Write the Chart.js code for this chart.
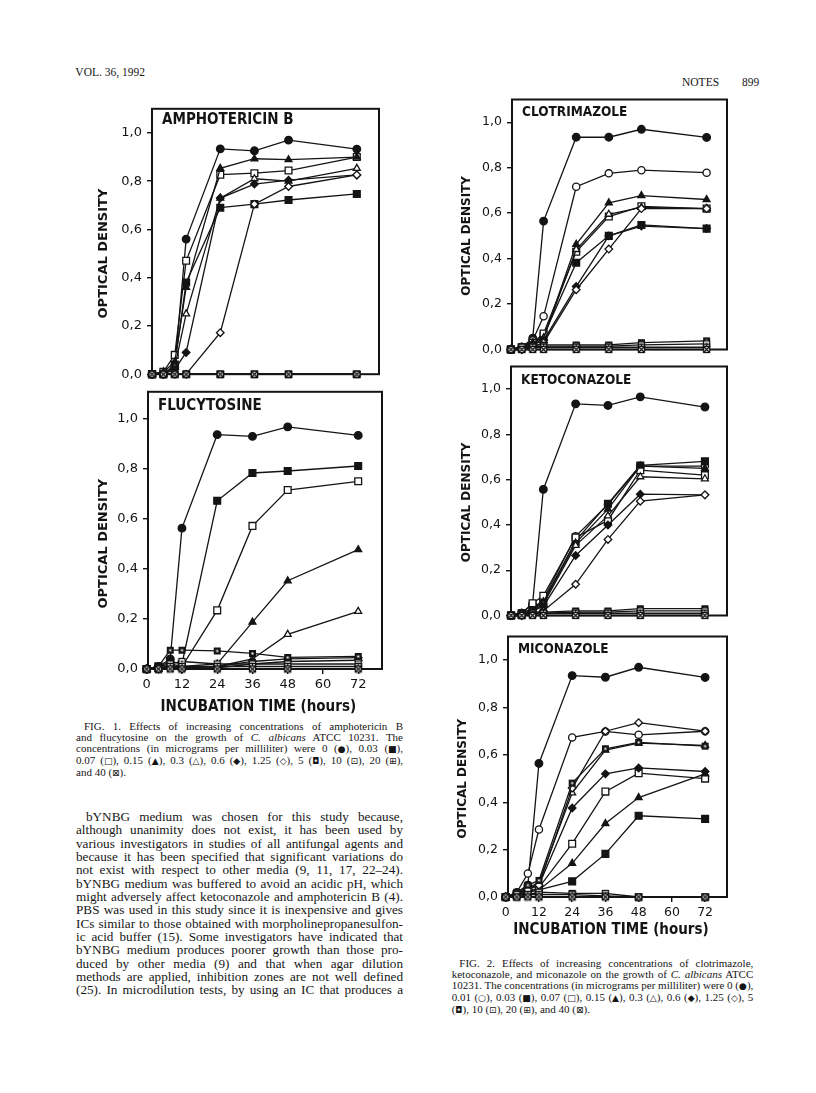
<!DOCTYPE html>
<html>
<head>
<meta charset="utf-8">
<script src="https://cdn.jsdelivr.net/npm/chart.js@4.4.1/dist/chart.umd.min.js"></script>
<style>
  html, body { margin: 0; padding: 0; background: #fff; }
  #page { position: relative; width: 816px; height: 1093px; overflow: hidden; background: #fff; color: #161616;
          font-family: "Liberation Serif", "Times New Roman", serif; }
  #page canvas { position: absolute; }
  .txt { position: absolute; white-space: nowrap; }
  .block { position: absolute; }
  .ln { white-space: nowrap; }
  .sym { font-family: "DejaVu Sans", sans-serif; font-size: 0.82em; }
</style>
</head>
<body>
<div id="page">
  <div class="txt" style="right:671px;top:66px;font-size:11.5px;">VOL. 36, 1992</div>
  <div class="txt" style="left:682px;top:76px;font-size:11.5px;">NOTES</div>
  <div class="txt" style="left:742px;top:76px;font-size:11.5px;">899</div>

  <div class="block" data-w="327" style="left:76px;top:721px;font-size:11px;line-height:11px;">
    <div class="ln" style="padding-left:8px"><span>FIG. 1. Effects of increasing concentrations of amphotericin B</span></div>
    <div class="ln"><span>and flucytosine on the growth of <i>C. albicans</i> ATCC 10231. The</span></div>
    <div class="ln"><span>concentrations (in micrograms per milliliter) were 0 (<span class="sym">●</span>), 0.03 (<span class="sym">■</span>),</span></div>
    <div class="ln"><span>0.07 (<span class="sym">□</span>), 0.15 (<span class="sym">▲</span>), 0.3 (<span class="sym">△</span>), 0.6 (<span class="sym">◆</span>), 1.25 (<span class="sym">◇</span>), 5 (<span class="sym">◘</span>), 10 (<span class="sym">⊡</span>), 20 (<span class="sym">⊞</span>),</span></div>
    <div class="ln last"><span>and 40 (<span class="sym">⊠</span>).</span></div>
  </div>

  <div class="block" data-w="327" style="left:76px;top:810px;font-size:13.2px;line-height:13.33px;">
    <div class="ln" style="padding-left:10px"><span>bYNBG medium was chosen for this study because,</span></div>
    <div class="ln"><span>although unanimity does not exist, it has been used by</span></div>
    <div class="ln"><span>various investigators in studies of all antifungal agents and</span></div>
    <div class="ln"><span>because it has been specified that significant variations do</span></div>
    <div class="ln"><span>not exist with respect to other media (9, 11, 17, 22–24).</span></div>
    <div class="ln"><span>bYNBG medium was buffered to avoid an acidic pH, which</span></div>
    <div class="ln"><span>might adversely affect ketoconazole and amphotericin B (4).</span></div>
    <div class="ln"><span>PBS was used in this study since it is inexpensive and gives</span></div>
    <div class="ln"><span>ICs similar to those obtained with morpholinepropanesulfon-</span></div>
    <div class="ln"><span>ic acid buffer (15). Some investigators have indicated that</span></div>
    <div class="ln"><span>bYNBG medium produces poorer growth than those pro-</span></div>
    <div class="ln"><span>duced by other media (9) and that when agar dilution</span></div>
    <div class="ln"><span>methods are applied, inhibition zones are not well defined</span></div>
    <div class="ln"><span>(25). In microdilution tests, by using an IC that produces a</span></div>
  </div>

  <div class="block" data-w="301.6" style="left:451.7px;top:957.8px;font-size:11px;line-height:11.1px;">
    <div class="ln" style="padding-left:7.6px"><span>FIG. 2. Effects of increasing concentrations of clotrimazole,</span></div>
    <div class="ln"><span>ketoconazole, and miconazole on the growth of <i>C. albicans</i> ATCC</span></div>
    <div class="ln"><span>10231. The concentrations (in micrograms per milliliter) were 0 (<span class="sym">●</span>),</span></div>
    <div class="ln"><span>0.01 (<span class="sym">○</span>), 0.03 (<span class="sym">■</span>), 0.07 (<span class="sym">□</span>), 0.15 (<span class="sym">▲</span>), 0.3 (<span class="sym">△</span>), 0.6 (<span class="sym">◆</span>), 1.25 (<span class="sym">◇</span>), 5</span></div>
    <div class="ln last"><span>(<span class="sym">◘</span>), 10 (<span class="sym">⊡</span>), 20 (<span class="sym">⊞</span>), and 40 (<span class="sym">⊠</span>).</span></div>
  </div>
</div>

<script>
// sampling times (hours) and axis ticks
const times = [0, 4, 8, 12, 24, 36, 48, 72];
const xTickHours = [0, 12, 24, 36, 48, 60, 72];
const yTickValues = [0, 0.2, 0.4, 0.6, 0.8, 1.0];

// concentrations, micrograms per milliliter (row order of the panel arrays)
const concFig1 = ["0", "0.03", "0.07", "0.15", "0.3", "0.6", "1.25", "5", "10", "20", "40"];
const concFig2 = ["0", "0.01", "0.03", "0.07", "0.15", "0.3", "0.6", "1.25", "5", "10", "20", "40"];

// optical density, one row per concentration, one column per time
const amphotericinB = [
  [0, 0, 0.03, 0.56, 0.934, 0.926, 0.97, 0.933],
  [0, 0, 0.04, 0.38, 0.69, 0.705, 0.722, 0.747],
  [0, 0.01, 0.08, 0.47, 0.827, 0.833, 0.844, 0.90],
  [0, 0.01, 0.05, 0.36, 0.853, 0.893, 0.889, 0.90],
  [0, 0, 0.03, 0.25, 0.73, 0.81, 0.80, 0.853],
  [0, 0, 0.02, 0.09, 0.73, 0.788, 0.804, 0.826],
  [0, 0, 0, 0, 0.172, 0.705, 0.778, 0.826],
  [0, 0, 0, 0, 0, 0, 0, 0],
  [0, 0, 0, 0, 0, 0, 0, 0],
  [0, 0, 0, 0, 0, 0, 0, 0],
  [0, 0, 0, 0, 0, 0, 0, 0]
];
const flucytosine = [
  [0, 0.01, 0.04, 0.562, 0.935, 0.928, 0.966, 0.932],
  [0, 0.01, 0.03, 0.02, 0.671, 0.782, 0.79, 0.81],
  [0, 0.01, 0.02, 0.01, 0.234, 0.571, 0.714, 0.749],
  [0, 0, 0.01, 0.01, 0.02, 0.187, 0.352, 0.476],
  [0, 0, 0.01, 0.005, 0.01, 0.04, 0.138, 0.23],
  [0, 0, 0.01, 0.005, 0.01, 0.03, 0.04, 0.045],
  [0, 0, 0.01, 0, 0.005, 0.02, 0.03, 0.035],
  [0, 0.01, 0.075, 0.075, 0.072, 0.062, 0.046, 0.05],
  [0, 0, 0.02, 0.03, 0.02, 0.02, 0.02, 0.02],
  [0, 0, 0.01, 0.01, 0.01, 0.01, 0.01, 0.01],
  [0, 0, 0, 0, 0, 0, 0, 0]
];
const clotrimazole = [
  [0, 0.01, 0.05, 0.565, 0.934, 0.934, 0.969, 0.933],
  [0, 0.01, 0.04, 0.146, 0.716, 0.775, 0.789, 0.778],
  [0, 0.01, 0.03, 0.06, 0.382, 0.50, 0.548, 0.532],
  [0, 0.01, 0.03, 0.07, 0.43, 0.585, 0.63, 0.62],
  [0, 0.01, 0.03, 0.05, 0.463, 0.645, 0.677, 0.66],
  [0, 0.01, 0.02, 0.05, 0.44, 0.595, 0.625, 0.62],
  [0, 0, 0.02, 0.04, 0.277, 0.50, 0.543, 0.532],
  [0, 0, 0.01, 0.03, 0.263, 0.442, 0.62, 0.62],
  [0, 0.01, 0.02, 0.02, 0.02, 0.02, 0.03, 0.038],
  [0, 0.01, 0.01, 0.015, 0.015, 0.015, 0.02, 0.025],
  [0, 0, 0.01, 0.01, 0.01, 0.01, 0.01, 0.01],
  [0, 0, 0, 0, 0, 0, 0, 0]
];
const ketoconazole = [
  [0, 0.01, 0.05, 0.557, 0.935, 0.928, 0.966, 0.921],
  [0, 0.01, 0.03, 0.07, 0.35, 0.49, 0.66, 0.66],
  [0, 0.01, 0.03, 0.06, 0.33, 0.494, 0.663, 0.681],
  [0, 0.01, 0.054, 0.087, 0.345, 0.42, 0.642, 0.62],
  [0, 0.01, 0.02, 0.06, 0.32, 0.47, 0.66, 0.65],
  [0, 0, 0.02, 0.05, 0.31, 0.44, 0.613, 0.604],
  [0, 0, 0.02, 0.04, 0.265, 0.40, 0.536, 0.533],
  [0, 0, 0.01, 0.02, 0.138, 0.336, 0.505, 0.533],
  [0, 0.01, 0.01, 0.015, 0.02, 0.02, 0.03, 0.03],
  [0, 0, 0.01, 0.01, 0.015, 0.015, 0.02, 0.02],
  [0, 0, 0.005, 0.01, 0.01, 0.01, 0.01, 0.01],
  [0, 0, 0, 0, 0, 0, 0, 0]
];
const miconazole = [
  [0, 0.01, 0.05, 0.564, 0.935, 0.928, 0.97, 0.927],
  [0, 0.02, 0.099, 0.285, 0.674, 0.699, 0.685, 0.70],
  [0, 0.01, 0.02, 0.03, 0.066, 0.182, 0.343, 0.33],
  [0, 0.01, 0.02, 0.04, 0.225, 0.445, 0.523, 0.50],
  [0, 0.01, 0.03, 0.03, 0.142, 0.31, 0.42, 0.52],
  [0, 0.01, 0.04, 0.06, 0.44, 0.62, 0.65, 0.64],
  [0, 0.01, 0.04, 0.05, 0.376, 0.52, 0.545, 0.53],
  [0, 0.01, 0.03, 0.05, 0.46, 0.70, 0.736, 0.70],
  [0, 0.02, 0.05, 0.07, 0.481, 0.626, 0.653, 0.637],
  [0, 0.01, 0.01, 0.02, 0.015, 0.015, 0, 0],
  [0, 0, 0.01, 0.01, 0.01, 0.005, 0, 0],
  [0, 0, 0, 0, 0, 0, 0, 0]
];

const INK = "#141414";
const page = document.getElementById("page");

// small hand-drawn symbols for the high concentrations
function symbolCanvas(kind) {
  const c = document.createElement("canvas");
  c.width = 9; c.height = 9;
  const g = c.getContext("2d");
  g.fillStyle = "#fff";
  g.fillRect(1, 1, 7, 7);
  g.strokeStyle = INK;
  g.fillStyle = INK;
  g.lineWidth = 1.3;
  if (kind === "5") {
    g.fillRect(1, 1, 7, 7);
    g.fillStyle = "#fff";
    g.fillRect(3.5, 3.5, 2, 2);
    return c;
  }
  g.strokeRect(1.5, 1.5, 6, 6);
  g.beginPath();
  if (kind === "10") {
    g.fillRect(3.5, 3.5, 2, 2);
  } else if (kind === "20") {
    g.moveTo(4.5, 1.5); g.lineTo(4.5, 7.5);
    g.moveTo(1.5, 4.5); g.lineTo(7.5, 4.5);
  } else {
    g.moveTo(1.5, 1.5); g.lineTo(7.5, 7.5);
    g.moveTo(7.5, 1.5); g.lineTo(1.5, 7.5);
  }
  g.stroke();
  return c;
}

function marker(conc) {
  switch (conc) {
    case "0": return { style: "circle", fill: true, r: 3.8 };
    case "0.01": return { style: "circle", fill: false, r: 3.6 };
    case "0.03": return { style: "rect", fill: true, r: 4.8 };
    case "0.07": return { style: "rect", fill: false, r: 4.8 };
    case "0.15": return { style: "triangle", fill: true, r: 4 };
    case "0.3": return { style: "triangle", fill: false, r: 4 };
    case "0.6": return { style: "rectRot", fill: true, r: 3.8 };
    case "1.25": return { style: "rectRot", fill: false, r: 3.8 };
    default: return { style: symbolCanvas(conc), fill: false, r: 4 };
  }
}

const panelFrame = {
  id: "panelFrame",
  beforeDatasetsDraw(chart) {
    const { ctx, chartArea: a } = chart;
    ctx.save();
    ctx.strokeStyle = INK;
    ctx.lineWidth = 2;
    ctx.strokeRect(a.left, a.top, a.right - a.left, a.bottom - a.top);
    ctx.restore();
  },
  afterDraw(chart, args, o) {
    const { ctx, chartArea: a, scales } = chart;
    ctx.save();
    ctx.fillStyle = INK;
    ctx.textBaseline = "middle";
    ctx.font = o.labelFont;
    ctx.fillText(o.label, a.left + o.labelDx, a.top + o.labelDy);

    ctx.font = o.axisFont;
    ctx.textAlign = "center";
    ctx.save();
    ctx.translate(a.left - o.yTitleGap, scales.y.getPixelForValue(0.5));
    ctx.rotate(-Math.PI / 2);
    ctx.fillText("OPTICAL DENSITY", 0, 0);
    ctx.restore();

    if (o.xTitleGap) {
      ctx.font = o.xTitleFont;
      ctx.fillText("INCUBATION TIME (hours)", scales.x.getPixelForValue(38), a.bottom + o.xTitleGap);
    }
    ctx.restore();
  }
};

function makePanel(spec) {
  const padL = 62, padT = 6, padR = 8;
  const padB = spec.xTitleGap ? 52 : 8;
  const w = spec.box.r - spec.box.l;
  const h = spec.box.b - spec.box.t;
  const canvas = document.createElement("canvas");
  canvas.width = padL + w + padR;
  canvas.height = padT + h + padB;
  canvas.style.left = (spec.box.l - padL) + "px";
  canvas.style.top = (spec.box.t - padT) + "px";
  page.appendChild(canvas);

  const datasets = spec.rows.map((row, i) => {
    const m = marker(spec.conc[i]);
    return {
      label: spec.conc[i],
      data: row.map((v, k) => ({ x: times[k], y: v })),
      borderColor: INK,
      borderWidth: 1.3,
      pointStyle: m.style,
      pointRadius: m.r,
      pointBorderWidth: 1.3,
      pointBorderColor: INK,
      pointBackgroundColor: m.fill ? INK : "#fff",
      tension: 0,
      clip: false
    };
  }).reverse();

  const showX = Boolean(spec.xTitleGap);
  new Chart(canvas, {
    type: "line",
    data: { datasets },
    options: {
      responsive: false,
      animation: false,
      events: [],
      layout: { padding: { left: 0, top: padT, right: padR, bottom: 0 }, autoPadding: false },
      plugins: {
        legend: { display: false },
        tooltip: { enabled: false },
        panelFrame: {
          label: spec.label,
          labelDx: 10,
          labelDy: spec.labelDy,
          labelFont: spec.labelFont,
          axisFont: spec.axisFont,
          yTitleGap: spec.yTitleGap,
          xTitleGap: spec.xTitleGap,
          xTitleFont: 'bold 15px "DejaVu Sans Condensed", "DejaVu Sans", sans-serif'
        }
      },
      scales: {
        x: {
          type: "linear",
          min: spec.xMin,
          max: spec.xMax,
          afterFit(scale) { scale.height = padB; },
          afterBuildTicks(scale) { scale.ticks = xTickHours.map(v => ({ value: v })); },
          border: { display: false },
          grid: { display: showX, drawOnChartArea: false, tickLength: 5, color: INK, lineWidth: 1.4 },
          ticks: {
            display: showX,
            autoSkip: false,
            maxRotation: 0,
            padding: 3,
            color: INK,
            font: { family: '"DejaVu Sans", sans-serif', size: spec.tickSize },
            callback: v => String(v)
          }
        },
        y: {
          min: 0,
          max: spec.yMax,
          afterFit(scale) { scale.width = padL; },
          afterBuildTicks(scale) { scale.ticks = yTickValues.map(v => ({ value: v })); },
          border: { display: false },
          grid: { drawOnChartArea: false, tickLength: 5, color: INK, lineWidth: 1.4 },
          ticks: {
            padding: 5,
            color: INK,
            font: { family: '"DejaVu Sans", sans-serif', size: spec.tickSize },
            callback: v => v.toFixed(1).replace(".", ",")
          }
        }
      }
    },
    plugins: [panelFrame]
  });
}

const fig1Label = 'bold 15px "DejaVu Sans Condensed", "DejaVu Sans", sans-serif';
const fig2Label = 'bold 13.5px "DejaVu Sans Condensed", "DejaVu Sans", sans-serif';

makePanel({ label: "AMPHOTERICIN B", rows: amphotericinB, conc: concFig1,
  box: { l: 152, t: 102, r: 379, b: 379 }, xMin: 0, xMax: 79.8, yMax: 1.10,
  labelDy: 11.5, labelFont: fig1Label, axisFont: 'bold 13px "DejaVu Sans", sans-serif',
  yTitleGap: 48, tickSize: 13 });
makePanel({ label: "FLUCYTOSINE", rows: flucytosine, conc: concFig1,
  box: { l: 148, t: 385, r: 382, b: 669 }, xMin: 0.44, xMax: 80.1, yMax: 1.106,
  labelDy: 14, labelFont: fig1Label, axisFont: 'bold 13px "DejaVu Sans", sans-serif',
  yTitleGap: 44, xTitleGap: 38.5, tickSize: 13 });
makePanel({ label: "CLOTRIMAZOLE", rows: clotrimazole, conc: concFig2,
  box: { l: 512, t: 93, r: 727, b: 354 }, xMin: 0.37, xMax: 79.5, yMax: 1.10,
  labelDy: 13, labelFont: fig2Label, axisFont: 'bold 12px "DejaVu Sans", sans-serif',
  yTitleGap: 45, tickSize: 12.5 });
makePanel({ label: "KETOCONAZOLE", rows: ketoconazole, conc: concFig2,
  box: { l: 511, t: 360, r: 727, b: 620 }, xMin: 0, xMax: 80.2, yMax: 1.10,
  labelDy: 14, labelFont: fig2Label, axisFont: 'bold 12px "DejaVu Sans", sans-serif',
  yTitleGap: 44, tickSize: 12.5 });
makePanel({ label: "MICONAZOLE", rows: miconazole, conc: concFig2,
  box: { l: 508, t: 630, r: 727, b: 897 }, xMin: 0.83, xMax: 79.9, yMax: 1.10,
  labelDy: 13, labelFont: fig2Label, axisFont: 'bold 12px "DejaVu Sans", sans-serif',
  yTitleGap: 45, xTitleGap: 33, tickSize: 12.5 });

// spread words so each printed line fills its column
document.querySelectorAll(".block").forEach(block => {
  const width = parseFloat(block.dataset.w);
  block.querySelectorAll(".ln").forEach(line => {
    if (line.classList.contains("last")) return;
    const span = line.firstElementChild;
    const indent = parseFloat(line.style.paddingLeft || 0);
    const natural = span.getBoundingClientRect().width;
    const gaps = (span.textContent.match(/ /g) || []).length;
    if (gaps) span.style.wordSpacing = ((width - indent - natural) / gaps) + "px";
  });
});
</script>
</body>
</html>
